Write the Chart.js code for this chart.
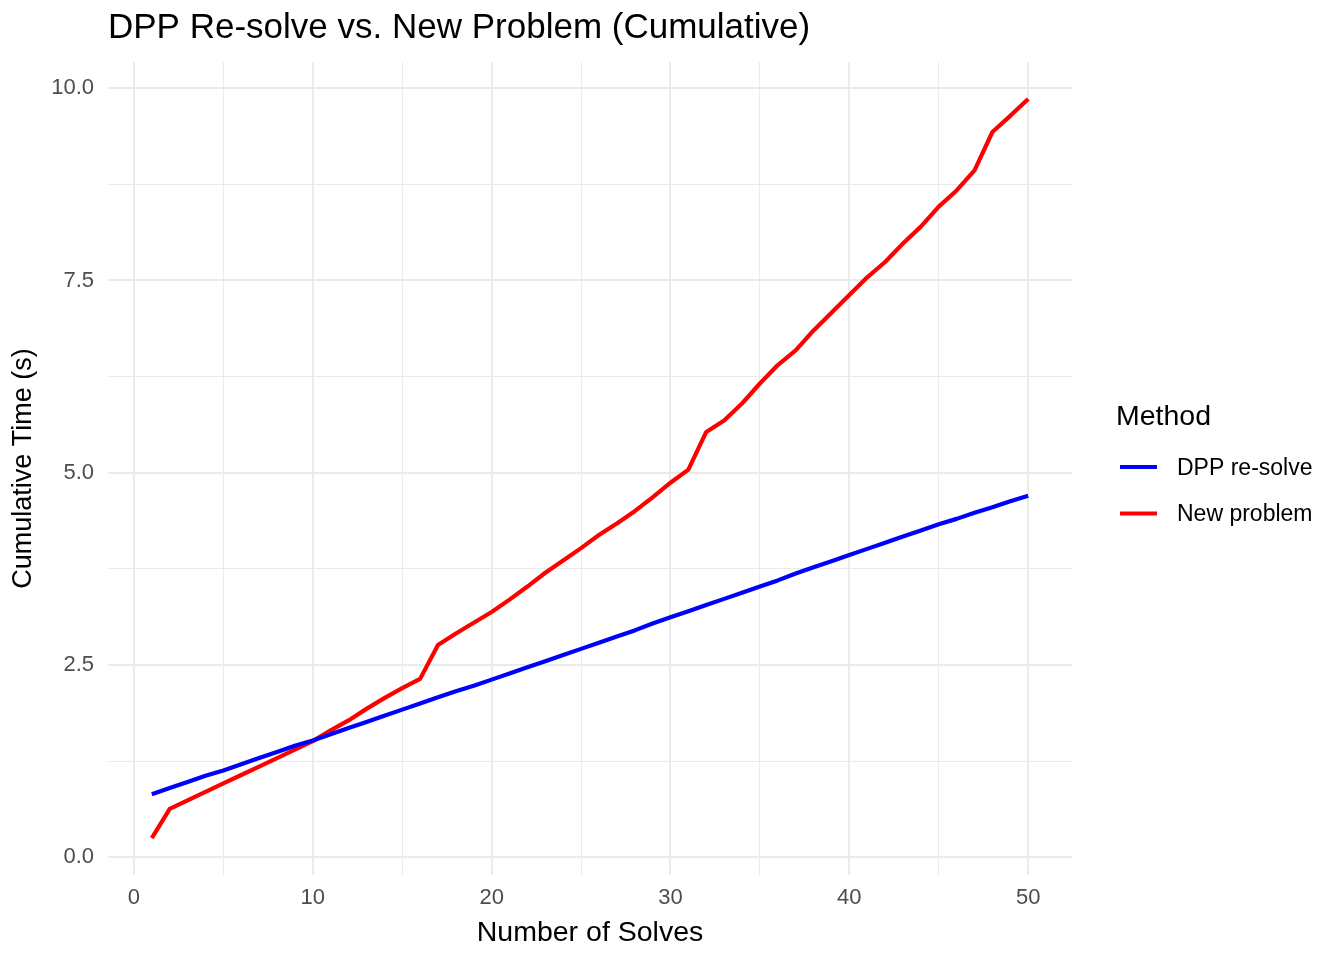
<!DOCTYPE html>
<html>
<head>
<meta charset="utf-8">
<title>DPP Re-solve vs. New Problem (Cumulative)</title>
<script src="https://cdn.jsdelivr.net/npm/chart.js@4.4.0/dist/chart.umd.min.js"></script>
<style>
    html, body { margin: 0; padding: 0; background: #ffffff; }
    #wrap { width: 1344px; height: 960px; position: relative; }
</style>
</head>
<body>
<div id="wrap"><canvas id="cumChart"></canvas></div>
<script>
// Dados
const solves = [1, 2, 3, 4, 5, 6, 7, 8, 9, 10,
    11, 12, 13, 14, 15, 16, 17, 18, 19, 20,
    21, 22, 23, 24, 25, 26, 27, 28, 29, 30,
    31, 32, 33, 34, 35, 36, 37, 38, 39, 40,
    41, 42, 43, 44, 45, 46, 47, 48, 49, 50];

const dppResolve = [0.82, 0.90, 0.98, 1.06, 1.13, 1.21, 1.29, 1.37, 1.45, 1.52,
    1.60, 1.68, 1.76, 1.84, 1.92, 2.00, 2.08, 2.16, 2.23, 2.31,
    2.39, 2.47, 2.55, 2.63, 2.71, 2.79, 2.87, 2.95, 3.04, 3.12,
    3.20, 3.28, 3.36, 3.44, 3.52, 3.60, 3.69, 3.77, 3.85, 3.93,
    4.01, 4.09, 4.17, 4.25, 4.33, 4.40, 4.48, 4.55, 4.63, 4.70];

const newProblem = [0.25, 0.63, 0.74, 0.85, 0.96, 1.07, 1.18, 1.29, 1.40, 1.51,
    1.65, 1.78, 1.93, 2.07, 2.20, 2.32, 2.76, 2.91, 3.05, 3.19,
    3.35, 3.52, 3.70, 3.86, 4.02, 4.19, 4.34, 4.50, 4.68, 4.87,
    5.04, 5.53, 5.68, 5.90, 6.16, 6.40, 6.59, 6.85, 7.08, 7.31,
    7.54, 7.74, 7.98, 8.20, 8.46, 8.67, 8.93, 9.43, 9.64, 9.86];

const seriesNames = ['DPP re-solve', 'New problem'];
const seriesColors = ['#0000FF', '#FF0000'];
const xTicks = [0, 5, 10, 15, 20, 25, 30, 35, 40, 45, 50];
const yTicks = [0, 1.25, 2.5, 3.75, 5, 6.25, 7.5, 8.75, 10];

const chartTitle = 'DPP Re-solve vs. New Problem (Cumulative)';
const legendTitle = 'Method';

const FONT = '"Liberation Sans", Arial, Helvetica, sans-serif';
const GRID = '#EBEBEB';

function toPoints(values) {
    return solves.map(function(s, i) { return { x: s, y: values[i] }; });
}

// Título e legenda desenhados à mão, para ficarem no lugar do ggplot
const ggDecor = {
    id: 'ggDecor',
    afterDraw: function(chart) {
        const c = chart.ctx;
        const area = chart.chartArea;
        c.save();
        c.fillStyle = '#000000';
        c.textBaseline = 'middle';
        c.textAlign = 'left';
        c.font = '35px ' + FONT;
        c.fillText(chartTitle, area.left, 28);

        // legenda
        const lx = area.right + 44;
        c.font = '28.5px ' + FONT;
        c.fillText(legendTitle, lx, 417);
        c.font = '23px ' + FONT;
        chart.data.datasets.forEach(function(ds, i) {
            const y = 467 + i * 46.5;
            c.strokeStyle = ds.borderColor;
            c.lineWidth = 4;
            c.beginPath();
            c.moveTo(lx + 4, y);
            c.lineTo(lx + 41, y);
            c.stroke();
            c.fillText(ds.label, lx + 61, y + 1.5);
        });
        c.restore();
    }
};

document.addEventListener('DOMContentLoaded', function() {
    const ctx = document.getElementById('cumChart');

    new Chart(ctx, {
        type: 'line',
        data: {
            datasets: [
                {
                    label: seriesNames[0],
                    data: toPoints(dppResolve),
                    borderColor: seriesColors[0],
                    backgroundColor: seriesColors[0],
                    borderWidth: 4.2,
                    pointRadius: 0,
                    tension: 0,
                    borderJoinStyle: 'round',
                    fill: false
                },
                {
                    label: seriesNames[1],
                    data: toPoints(newProblem),
                    borderColor: seriesColors[1],
                    backgroundColor: seriesColors[1],
                    borderWidth: 4.2,
                    pointRadius: 0,
                    tension: 0,
                    borderJoinStyle: 'round',
                    fill: false
                }
            ]
        },
        options: {
            responsive: true,
            maintainAspectRatio: false,
            animation: false,
            layout: {
                padding: { top: 62, right: 272, left: 0, bottom: 0 }
            },
            scales: {
                x: {
                    type: 'linear',
                    min: -1.45,
                    max: 52.45,
                    afterBuildTicks: function(scale) {
                        scale.ticks = xTicks.map(function(v) { return { value: v }; });
                    },
                    afterFit: function(scale) { scale.height = 85; },
                    border: { display: false },
                    grid: {
                        color: GRID,
                        drawTicks: false,
                        lineWidth: function(c) {
                            return (c.tick && c.tick.value % 10 === 0) ? 2 : 1;
                        }
                    },
                    ticks: {
                        padding: 10,
                        color: '#4D4D4D',
                        font: { family: FONT, size: 22 },
                        maxRotation: 0,
                        autoSkip: false,
                        callback: function(v) { return v % 10 === 0 ? String(v) : ''; }
                    },
                    title: {
                        display: true,
                        text: 'Number of Solves',
                        color: '#000000',
                        font: { family: FONT, size: 28.5 },
                        padding: { top: 0, bottom: 10 }
                    }
                },
                y: {
                    type: 'linear',
                    min: -0.23,
                    max: 10.34,
                    afterBuildTicks: function(scale) {
                        scale.ticks = yTicks.map(function(v) { return { value: v }; });
                    },
                    afterFit: function(scale) { scale.width = 108; },
                    border: { display: false },
                    grid: {
                        color: GRID,
                        drawTicks: false,
                        lineWidth: function(c) {
                            return (c.tick && c.tick.value % 2.5 === 0) ? 2 : 1;
                        }
                    },
                    ticks: {
                        padding: 14,
                        color: '#4D4D4D',
                        font: { family: FONT, size: 22 },
                        autoSkip: false,
                        callback: function(v) { return v % 2.5 === 0 ? v.toFixed(1) : ''; }
                    },
                    title: {
                        display: true,
                        text: 'Cumulative Time (s)',
                        color: '#000000',
                        font: { family: FONT, size: 27 },
                        padding: { top: 7, bottom: 0 }
                    }
                }
            },
            plugins: {
                legend: { display: false },
                title: { display: false },
                tooltip: { enabled: false }
            }
        },
        plugins: [ggDecor]
    });
});
</script>
</body>
</html>
